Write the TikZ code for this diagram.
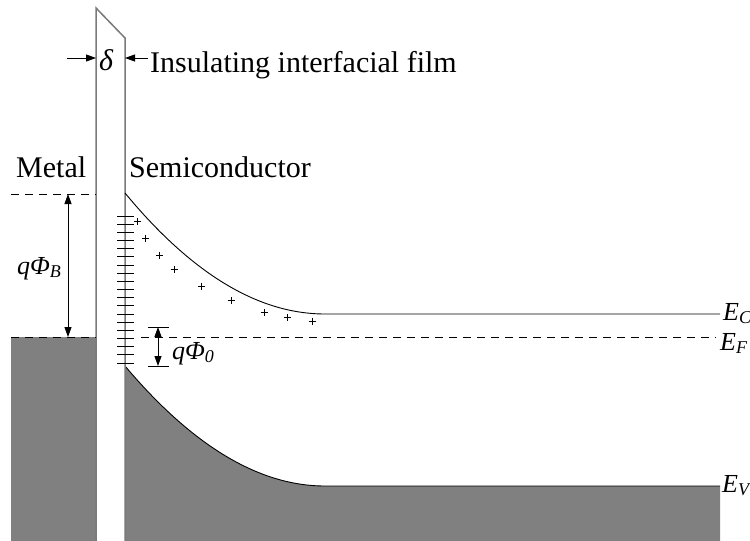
\documentclass[tikz,border=0pt]{standalone}
\usepackage{fontspec}
\setmainfont{Liberation Serif}
\usetikzlibrary{arrows.meta}
\definecolor{bandgray}{HTML}{808080}
\definecolor{filmgray}{HTML}{7A7A7A}
\newcommand\lowsub[1]{\raisebox{-3pt}{\fontsize{18}{20}\selectfont #1}}
\begin{document}
\begin{tikzpicture}[x=1pt,y=-1pt,
  lbl/.style={inner sep=0pt, font=\fontsize{30}{36}\selectfont},
  sym/.style={inner sep=0pt, font=\fontsize{26}{30}\selectfont\itshape},
  band/.style={line width=0.9pt, black},
  dashline/.style={line width=0.9pt, black, dash pattern=on 8pt off 6pt},
  dim/.style={line width=0.9pt, {Triangle[length=10pt,width=7pt]}-{Triangle[length=10pt,width=7pt]}},
  pointer/.style={line width=0.9pt, -{Triangle[length=10pt,width=7pt]}},
  tick/.style={line width=0.9pt, black},
  plusmark/.style={line width=0.7pt, black}
]
\clip (0,0) rectangle (750,541);
\fill[white] (0,0) rectangle (750,541);

% metal
\fill[bandgray] (11,337) rectangle (96,545);

% semiconductor valence band region
\fill[bandgray] (125,366) .. controls (191.7,445) and (258.3,486) .. (325,486)
  -- (720,486) -- (720,545) -- (125,545) -- cycle;
\draw[band] (125,366) .. controls (191.7,445) and (258.3,486) .. (325,486) -- (720,486);

% insulating film
\filldraw[fill=white, draw=filmgray, line width=1.5pt]
  (96,546) -- (96,8) -- (125,38) -- (125,546);

% conduction band
\draw[band] (125,193) .. controls (191.7,273.7) and (258.3,314) .. (325,314) -- (720,314);

% Fermi level and barrier top
\draw[dashline] (11,194) -- (96,194);
\draw[dashline] (11,337) -- (96,337);
\draw[dashline] (141,337) -- (716,337);

% interface states
\foreach \i in {0,...,18}
  \draw[tick] (117,{216+\i*8.17}) -- (134,{216+\i*8.17});

% donor charges
\foreach \x/\y in {137.7/221,145/238.3,159.3/255.3,174/269.3,201.7/286,231/300.3,264/312.3,287.3/317.7,312/321}
  \draw[plusmark] ({\x-3.5},\y) -- ({\x+3.5},\y) (\x,{\y-3.5}) -- (\x,{\y+3.5});

% q Phi_B dimension
\coordinate (bt) at (68,194);
\coordinate (bb) at (68,337);
\draw[dim] (bt) -- (bb);

% q Phi_0 dimension
\coordinate (p0t) at (158,327);
\coordinate (p0b) at (158,366);
\draw[tick] (148,327) -- (169,327);
\draw[tick] (148,366) -- (169,366);
\draw[dim] (p0t) -- (p0b);

% delta arrows
\coordinate (dl0) at (67,58);
\coordinate (dl1) at (96,58);
\coordinate (dr0) at (148,58);
\coordinate (dr1) at (125,58);
\draw[pointer] (dl0) -- (dl1);
\draw[pointer] (dr0) -- (dr1);

% labels
\node[lbl, anchor=base west] (metal) at (16,177) {Metal};
\node[lbl, anchor=base west] (semi) at (129,177) {Semiconductor};
\node[lbl, anchor=base west] (film) at (150,72) {Insulating interfacial film};
\node[lbl, anchor=base, font=\fontsize{30}{36}\selectfont\itshape] (delta) at (106,70) {δ};
\node[sym, anchor=base west] (qphib) at (17,274) {qΦ\lowsub{B}};
\node[sym, anchor=base west] (qphi0) at (172,359) {qΦ\lowsub{0}};
\node[sym, anchor=base west] (ec) at (723,320) {E\lowsub{C}};
\node[sym, anchor=base west] (ef) at (720,350) {E\lowsub{F}};
\node[sym, anchor=base west] (ev) at (722,492) {E\lowsub{V}};
\end{tikzpicture}
\end{document}
